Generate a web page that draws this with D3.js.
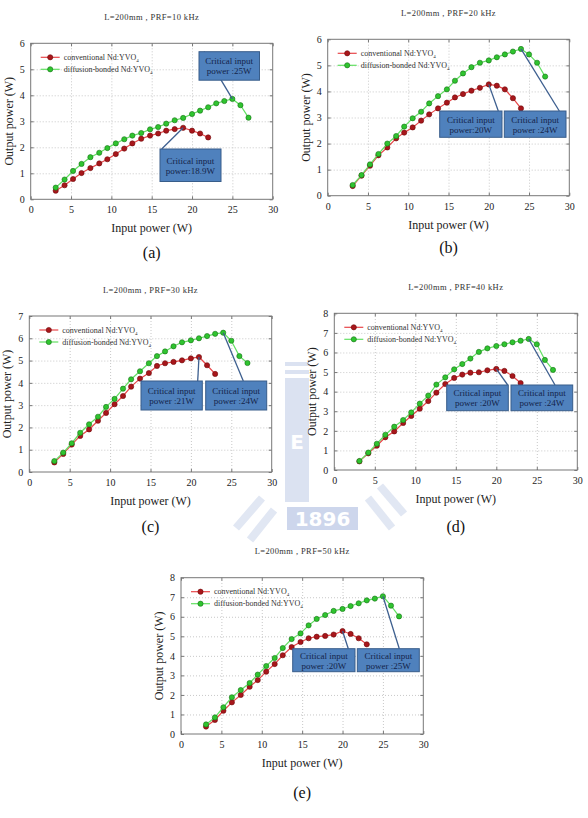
<!DOCTYPE html>
<html>
<head>
<meta charset="utf-8">
<script src="https://cdn.jsdelivr.net/npm/d3@7"></script>
<style>
  body { margin: 0; background: #fff; }
  svg { display: block; }
  svg text { font-family: "Liberation Serif", "Times New Roman", serif; }
  .grid line { stroke: #c8c8c8; stroke-dasharray: 1,2; }
  .grid path { display: none; }
  .ticks path { display: none; }
  .ticks line { stroke: #777; }
  .ticks text { font-family: "Liberation Serif", serif; font-size: 10px; fill: #222; }
</style>
</head>
<body>
<div id="chart"></div>
<script>
// input power (W) shared by every panel
const inputPower = [3.1, 4.2, 5.25, 6.3, 7.4, 8.5, 9.5, 10.55, 11.6, 12.6, 13.7, 14.8,
  15.8, 16.8, 17.85, 18.9, 20, 21, 22, 23, 24, 25, 26, 27];

const panelNames = ["(a)", "(b)", "(c)", "(d)", "(e)"];
const panelTitles = ["L=200mm , PRF=10 kHz", "L=200mm , PRF=20 kHz", "L=200mm , PRF=30 kHz",
  "L=200mm , PRF=40 kHz", "L=200mm , PRF=50 kHz"];
const yMax = [6, 6, 7, 8, 8];
const xTicks = [0, 5, 10, 15, 20, 25, 30];

// output power (W), conventional Nd:YVO4
const conventional = [
  [0.33, 0.54, 0.78, 1.01, 1.2, 1.38, 1.54, 1.74, 1.95, 2.15, 2.33, 2.45, 2.53, 2.64, 2.7, 2.75, 2.64, 2.53, 2.38],
  [0.37, 0.77, 1.15, 1.55, 1.85, 2.2, 2.42, 2.62, 2.88, 3.12, 3.35, 3.57, 3.77, 3.9, 4.03, 4.14, 4.27, 4.22, 4.08, 3.74, 3.35],
  [0.43, 0.81, 1.23, 1.62, 1.91, 2.3, 2.65, 3.04, 3.41, 3.83, 4.19, 4.44, 4.76, 4.88, 4.94, 5.01, 5.1, 5.16, 4.79, 4.4],
  [0.44, 0.85, 1.24, 1.67, 1.97, 2.4, 2.76, 3.13, 3.52, 3.95, 4.39, 4.7, 4.87, 4.97, 4.99, 5.09, 5.16, 5.06, 4.8, 4.44],
  [0.38, 0.72, 1.19, 1.62, 2.0, 2.42, 2.76, 3.19, 3.58, 4.03, 4.45, 4.71, 4.9, 4.98, 5.02, 5.09, 5.27, 5.12, 4.9, 4.59]
];

// output power (W), diffusion-bonded Nd:YVO4
const diffusion = [
  [0.45, 0.76, 1.09, 1.36, 1.62, 1.79, 1.97, 2.15, 2.31, 2.45, 2.55, 2.69, 2.78, 2.91, 3.04, 3.13, 3.28, 3.41, 3.54, 3.69, 3.78, 3.86, 3.62, 3.14],
  [0.41, 0.79, 1.2, 1.6, 2.0, 2.29, 2.65, 2.97, 3.22, 3.54, 3.82, 4.08, 4.41, 4.69, 4.93, 5.1, 5.19, 5.31, 5.42, 5.53, 5.63, 5.42, 5.1, 4.57],
  [0.49, 0.87, 1.29, 1.76, 2.14, 2.48, 2.92, 3.28, 3.74, 4.16, 4.52, 4.88, 5.2, 5.41, 5.64, 5.82, 5.91, 6.0, 6.1, 6.2, 6.25, 5.89, 5.2, 4.89],
  [0.46, 0.89, 1.34, 1.8, 2.21, 2.55, 2.94, 3.39, 3.8, 4.36, 4.73, 5.14, 5.41, 5.69, 6.03, 6.21, 6.33, 6.42, 6.52, 6.6, 6.69, 6.42, 5.62, 5.11],
  [0.49, 0.85, 1.37, 1.88, 2.25, 2.61, 3.04, 3.48, 3.89, 4.4, 4.86, 5.15, 5.56, 5.89, 6.09, 6.3, 6.4, 6.55, 6.69, 6.84, 6.93, 7.05, 6.57, 6.02]
];

// critical input power callouts: [series, point index, second text line]
const callouts = [
  [["diff", 21, "power :25W"], ["conv", 15, "power:18.9W"]],
  [["conv", 16, "power:20W"], ["diff", 20, "power :24W"]],
  [["conv", 17, "power :21W"], ["diff", 20, "power :24W"]],
  [["conv", 16, "power :20W"], ["diff", 20, "power :24W"]],
  [["conv", 16, "power :20W"], ["diff", 21, "power :25W"]]
];

const legendLabels = ["conventional Nd:YVO", "diffusion-bonded Nd:YVO"];

// ---- layout (pixels) ----
const W = 588, H = 818;
const panels = [
  { left: 30.7, top: 43.3, w: 242, h: 156, sub: 58.5,
    boxes: [[168.3, 8.4, 60.5, 28.5, 173.3], [129.3, 105.7, 61, 32.5, 131]] },
  { left: 327.7, top: 39.3, w: 241.6, h: 156.4, sub: 57.5,
    boxes: [[112, 71.7, 62.3, 26.3, 170.6], [176.6, 71.7, 61.7, 26.3, 231.6]] },
  { left: 29.3, top: 316, w: 242.4, h: 156, sub: 60,
    boxes: [[111.7, 65, 61.3, 29, 168.4], [176.4, 65, 61, 29, 214]] },
  { left: 334.3, top: 313.3, w: 243, h: 156.7, sub: 62,
    boxes: [[112.4, 71.7, 61.6, 25.7, 173.4], [176.7, 71.7, 61.7, 25.7, 220.7]] },
  { left: 181, top: 577.7, w: 242.3, h: 156.3, sub: 64,
    boxes: [[111.7, 71, 62.3, 23, 167.3], [176.3, 71, 62, 23, 218.3]] }
];

const svg = d3.select("#chart").append("svg")
  .attr("width", W)
  .attr("height", H);

// faint school emblem watermark in the background
const wm = svg.append("g").attr("fill", "#dbe2f1");
wm.append("rect").attr("x", 285).attr("y", 378).attr("width", 24).attr("height", 124);
[[285, 362, 24, 4], [285, 370, 24, 4]].forEach(r => {
  wm.append("rect").attr("x", r[0]).attr("y", r[1]).attr("width", r[2]).attr("height", r[3]);
});
wm.append("text").attr("x", 297).attr("y", 449).attr("text-anchor", "middle")
  .style("font-family", "DejaVu Sans").attr("font-weight", "bold").attr("font-size", 20)
  .attr("fill", "#fff").text("E");
wm.append("rect").attr("x", 287).attr("y", 507).attr("width", 71).attr("height", 23).attr("fill", "#cdd6ec");
wm.append("text").attr("x", 322.5).attr("y", 526).attr("text-anchor", "middle")
  .style("font-family", "DejaVu Sans").attr("font-weight", "bold").attr("font-size", 20)
  .attr("fill", "#fff").text("1896");
[[236, 528, 262, 498], [250, 540, 274, 510], [368, 498, 392, 528], [380, 486, 404, 514]].forEach(s => {
  wm.append("line").attr("x1", s[0]).attr("y1", s[1]).attr("x2", s[2]).attr("y2", s[3])
    .attr("stroke", "#e1e7f3").attr("stroke-width", 8);
});

const colors = {
  conv: { line: "#e8474a", fill: "#a8161b", stroke: "#6e0a0a" },
  diff: { line: "#62e062", fill: "#2fc42f", stroke: "#167016" }
};

panels.forEach((p, i) => {
  const g = svg.append("g").attr("transform", `translate(${p.left},${p.top})`);

  const x = d3.scaleLinear().domain([0, 30]).range([0, p.w]);
  const y = d3.scaleLinear().domain([0, yMax[i]]).range([p.h, 0]);
  const yTicks = d3.range(0, yMax[i] + 1);

  // dotted grid
  g.append("g").attr("class", "grid")
    .attr("transform", `translate(0,${p.h})`)
    .call(d3.axisBottom(x).tickValues(xTicks.slice(1, -1)).tickSize(-p.h).tickFormat(""));
  g.append("g").attr("class", "grid")
    .call(d3.axisLeft(y).tickValues(yTicks.slice(1, -1)).tickSize(-p.w).tickFormat(""));

  // inward ticks on all sides
  g.append("g").attr("class", "ticks")
    .attr("transform", `translate(0,${p.h})`)
    .call(d3.axisBottom(x).tickValues(xTicks).tickSizeInner(-3).tickSizeOuter(0)
      .tickPadding(7).tickFormat(d3.format("d")));
  g.append("g").attr("class", "ticks")
    .call(d3.axisLeft(y).tickValues(yTicks).tickSizeInner(-3).tickSizeOuter(0)
      .tickPadding(6).tickFormat(d3.format("d")));
  g.append("g").attr("class", "ticks")
    .call(d3.axisTop(x).tickValues(xTicks).tickSizeInner(-3).tickSizeOuter(0).tickFormat(""));
  g.append("g").attr("class", "ticks")
    .attr("transform", `translate(${p.w},0)`)
    .call(d3.axisRight(y).tickValues(yTicks).tickSizeInner(-3).tickSizeOuter(0).tickFormat(""));

  g.append("rect")
    .attr("width", p.w).attr("height", p.h)
    .attr("fill", "none").attr("stroke", "#777").attr("stroke-width", 1);

  // series
  const series = [
    { key: "conv", vals: conventional[i] },
    { key: "diff", vals: diffusion[i] }
  ];
  const line = d3.line().x(d => x(d[0])).y(d => y(d[1]));
  series.forEach(s => {
    const pts = s.vals.map((v, j) => [inputPower[j], v]);
    g.append("path").datum(pts)
      .attr("d", line)
      .attr("fill", "none")
      .attr("stroke", colors[s.key].line)
      .attr("stroke-width", 1.2);
    g.selectAll(null).data(pts).enter().append("circle")
      .attr("cx", d => x(d[0]))
      .attr("cy", d => y(d[1]))
      .attr("r", 2.6)
      .attr("fill", colors[s.key].fill)
      .attr("stroke", colors[s.key].stroke)
      .attr("stroke-width", 0.6);
  });

  // legend
  ["conv", "diff"].forEach((k, j) => {
    const ly = 14 + j * 12;
    g.append("line").attr("x1", 10).attr("x2", 29).attr("y1", ly).attr("y2", ly)
      .attr("stroke", colors[k].line).attr("stroke-width", 1.2);
    g.append("circle").attr("cx", 19.5).attr("cy", ly).attr("r", 2.6)
      .attr("fill", colors[k].fill).attr("stroke", colors[k].stroke).attr("stroke-width", 0.6);
    const t = g.append("text").attr("x", 33).attr("y", ly + 2.8)
      .attr("font-size", 8).attr("fill", "#333").text(legendLabels[j]);
    t.append("tspan").attr("font-size", 5).attr("dy", 2).text("4");
  });

  // callout boxes
  callouts[i].forEach((c, j) => {
    const b = p.boxes[j];
    const vals = c[0] === "conv" ? conventional[i] : diffusion[i];
    g.append("line")
      .attr("x1", b[4]).attr("y1", b[1])
      .attr("x2", x(inputPower[c[1]])).attr("y2", y(vals[c[1]]))
      .attr("stroke", "#3d5f8f").attr("stroke-width", 1.3);
    g.append("rect")
      .attr("x", b[0]).attr("y", b[1]).attr("width", b[2]).attr("height", b[3])
      .attr("fill", "#4f81bd").attr("stroke", "#385d8a").attr("stroke-width", 1);
    const tx = b[0] + b[2] / 2, ty = b[1] + b[3] / 2;
    g.append("text").attr("x", tx).attr("y", ty - 1.5)
      .attr("text-anchor", "middle").attr("font-size", 9).attr("fill", "#14244a")
      .text("Critical input");
    g.append("text").attr("x", tx).attr("y", ty + 8.5)
      .attr("text-anchor", "middle").attr("font-size", 9).attr("fill", "#14244a")
      .text(c[2]);
  });

  // titles and axis labels
  g.append("text").attr("x", p.w / 2).attr("y", -23.5)
    .attr("text-anchor", "middle").attr("font-size", 8.5).attr("letter-spacing", 0.4)
    .attr("fill", "#333").text(panelTitles[i]);
  g.append("text").attr("x", p.w / 2).attr("y", p.h + 33)
    .attr("text-anchor", "middle").attr("font-size", 12).attr("fill", "#222")
    .text("Input power (W)");
  g.append("text")
    .attr("transform", `translate(-18,${p.h / 2}) rotate(-90)`)
    .attr("text-anchor", "middle").attr("font-size", 12).attr("fill", "#222")
    .text("Output power (W)");
  g.append("text").attr("x", p.w / 2).attr("y", p.h + p.sub)
    .attr("text-anchor", "middle").attr("font-size", 16).attr("fill", "#111")
    .text(panelNames[i]);
});
</script>
</body>
</html>
